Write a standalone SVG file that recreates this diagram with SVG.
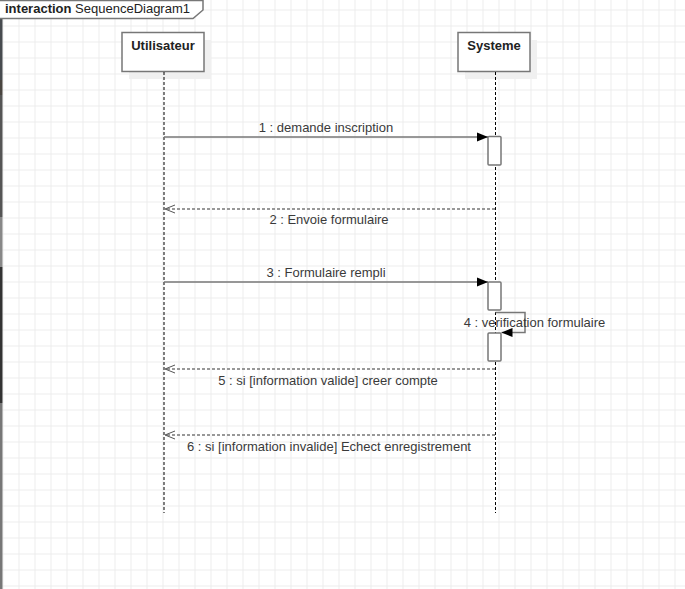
<svg xmlns="http://www.w3.org/2000/svg" width="685" height="589" viewBox="0 0 685 589">
<defs>
<pattern id="grid" x="2.5" y="9.5" width="16" height="16" patternUnits="userSpaceOnUse">
<path d="M0.5,0 V16 M0,0.5 H16" fill="none" stroke="#ececec" stroke-width="1"/>
</pattern>
<marker id="filled" markerWidth="12" markerHeight="10" refX="11" refY="5" orient="auto" markerUnits="userSpaceOnUse">
<path d="M0,0.5 L11,5 L0,9.5 Z" fill="#000"/>
</marker>
<marker id="open" markerWidth="12" markerHeight="10" refX="11" refY="5" orient="auto" markerUnits="userSpaceOnUse">
<path d="M1,1 L11,5 L1,9" fill="none" stroke="#555" stroke-width="1"/>
</marker>
</defs>
<style>
.box{fill:#fff;stroke:#777;stroke-width:1.5}
.shadow{fill:#f0f0f0}
.lname{font-family:"Liberation Sans",Arial,sans-serif;font-size:13px;font-weight:bold;fill:#222;text-anchor:middle}
.life{stroke:#000;stroke-width:1;stroke-dasharray:3,2;fill:none}
.act{fill:#fff;stroke:#777;stroke-width:1.5}
.msg{stroke:#777;stroke-width:1.5;fill:none}
.ret{stroke:#777;stroke-width:1.5;fill:none;stroke-dasharray:3,2}
.lbl{font-family:"Liberation Sans",Arial,sans-serif;font-size:13px;fill:#3a3a3a;text-anchor:middle}
</style>
<rect width="685" height="589" fill="#fff"/>
<rect width="685" height="589" fill="url(#grid)"/>
<g id="edge-strip">
<rect x="0" y="0" width="2.5" height="80" fill="#474b4f"/>
<rect x="0" y="80" width="2.5" height="15" fill="#4a4540"/>
<rect x="0" y="95" width="2.5" height="122" fill="#555"/>
<rect x="0" y="217" width="2.5" height="50" fill="#888"/>
<rect x="0" y="267" width="2.5" height="136" fill="#333"/>
<rect x="0" y="403" width="2.5" height="186" fill="#777"/>
</g>
<g id="frame">
<path d="M0,0.5 H203 V10 L193,18.5 H0" fill="#fff" stroke="#777" stroke-width="1.5"/>
<text x="5" y="13" font-family="Liberation Sans,Arial,sans-serif" font-size="13" fill="#222"><tspan font-weight="bold">interaction</tspan> SequenceDiagram1</text>
</g>
<g id="utilisateur">
<rect class="shadow" x="129" y="40" width="82" height="39"/>
<rect class="box" x="122" y="32.5" width="82" height="39"/>
<text class="lname" x="163" y="50">Utilisateur</text>
<line class="life" x1="164" y1="72" x2="164" y2="513"/>
</g>
<g id="systeme">
<rect class="shadow" x="465" y="40" width="72" height="39"/>
<rect class="box" x="458" y="32.5" width="72" height="39"/>
<text class="lname" x="494" y="50">Systeme</text>
<line class="life" x1="495.5" y1="72" x2="495.5" y2="513"/>
</g>
<g id="activations">
<rect class="act" x="488" y="136.5" width="13" height="28.5" rx="1"/>
<rect class="act" x="488" y="282" width="13" height="28" rx="1"/>
<rect class="act" x="488" y="333" width="13" height="28" rx="1"/>
</g>
<g id="connectors">
<line class="msg" x1="164" y1="137" x2="488" y2="137" marker-end="url(#filled)"/>
<line class="ret" x1="495" y1="209" x2="165" y2="209" marker-end="url(#open)"/>
<line class="msg" x1="164" y1="282" x2="488" y2="282" marker-end="url(#filled)"/>
<path class="msg" d="M495.5,312.5 H525 V332.5 H501.5" marker-end="url(#filled)"/>
<line class="ret" x1="495" y1="369" x2="165" y2="369" marker-end="url(#open)"/>
<line class="ret" x1="495" y1="435" x2="165" y2="435" marker-end="url(#open)"/>
</g>
<g id="labels">
<text class="lbl" x="326" y="132">1 : demande inscription</text>
<text class="lbl" x="329" y="224">2 : Envoie formulaire</text>
<text class="lbl" x="326" y="277">3 : Formulaire rempli</text>
<text class="lbl" x="534.5" y="327">4 : verification formulaire</text>
<text class="lbl" x="328" y="385">5 : si [information valide] creer compte</text>
<text class="lbl" x="329" y="451">6 : si [information invalide] Echect enregistrement</text>
</g>
</svg>
